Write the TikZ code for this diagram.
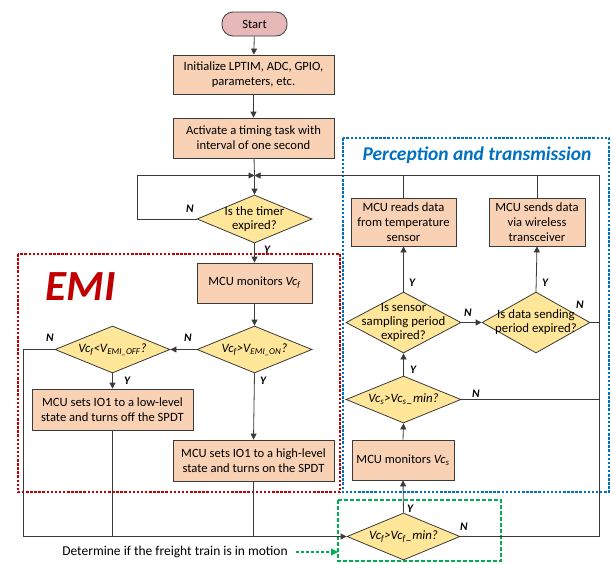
\documentclass[tikz,border=0pt]{standalone}
\usepackage{fontspec}
\setmainfont{Carlito}
\usetikzlibrary{arrows.meta,shapes.geometric}
\definecolor{boxfill}{HTML}{F9D2B6}
\definecolor{diafill}{HTML}{FFE699}
\definecolor{startfill}{HTML}{E6B9B8}
\definecolor{emired}{HTML}{C00000}
\definecolor{ptblue}{HTML}{0070C0}
\definecolor{motgreen}{HTML}{00B050}
\definecolor{linec}{HTML}{3A3A3A}
\begin{document}
\begin{tikzpicture}[x=1pt,y=-1pt,
  font=\fontsize{12.6}{15}\selectfont,
  line width=0.8pt,
  boxnode/.style={draw=linec, fill=boxfill, align=center, inner sep=0pt},
  dianode/.style={draw=linec, fill=diafill, shape=diamond, inner sep=0pt},
  diatext/.style={align=center, inner sep=0pt, font=\fontsize{12.8}{14}\selectfont},
  conn/.style={draw=linec},
  arr/.style={draw=linec, -{Triangle[length=6pt,width=6pt]}},
  yn/.style={font=\fontsize{11.5}{13}\selectfont\bfseries\itshape, inner sep=0pt},
  region/.style={line width=1.4pt, dash pattern=on 2.5pt off 1.6pt}
]
\useasboundingbox (0,0) rectangle (613,563);

% regions
\draw[region, emired] (18,254) rectangle (340,492);
\draw[region, ptblue] (343,138) rectangle (609,492);
\draw[region, motgreen, dash pattern=on 4pt off 2pt] (338,500) rectangle (501,561);

\node[text=emired, font=\fontsize{43}{45}\selectfont\bfseries\itshape, inner sep=0pt] (emi) at (81,287) {EMI};
\node[text=ptblue, font=\fontsize{19.5}{21}\selectfont\bfseries\itshape, inner sep=0pt] (pt) at (477,155) {Perception and transmission};

% main column
\node[draw=linec, fill=startfill, rounded corners=11pt, minimum width=65, minimum height=24, inner sep=0pt] (start) at (254.5,24) {Start};
\node[boxnode, minimum width=161, minimum height=39] (init) at (253.5,74.5) {Initialize LPTIM, ADC, GPIO,\\parameters, etc.};
\node[boxnode, minimum width=161, minimum height=40] (act) at (253.5,138) {Activate a timing task with\\interval of one second};
\coordinate (merge) at (254.5,175.5);
\node[dianode, minimum width=115, minimum height=48] (timer) at (254.5,219) {};
\node[diatext] (timert) at (timer) {Is the timer\\expired?};
\node[boxnode, minimum width=115, minimum height=40] (mvcf) at (254.5,283) {MCU monitors \textit{Vc\textsubscript{f}}};
\node[dianode, minimum width=115, minimum height=47] (emion) at (254.5,349.5) {};
\node[diatext] (emiont) at (emion) {\textit{Vc\textsubscript{f}>V\textsubscript{EMI\_ON}?}};
\node[dianode, minimum width=115, minimum height=47] (emioff) at (112.5,349.5) {};
\node[diatext] (emiofft) at (emioff) {\textit{Vc\textsubscript{f}<V\textsubscript{EMI\_OFF}?}};
\node[boxnode, minimum width=161, minimum height=41] (low) at (112.5,409.5) {MCU sets IO1 to a low-level\\state and turns off the SPDT};
\node[boxnode, minimum width=161, minimum height=41] (high) at (253.5,460.5) {MCU sets IO1 to a high-level\\state and turns on the SPDT};

% right column
\node[dianode, minimum width=113, minimum height=47] (fmin) at (403.5,536.5) {};
\node[diatext] (fmint) at (fmin) {\textit{Vc\textsubscript{f}>Vc\textsubscript{f}\_min?}};
\node[boxnode, minimum width=102, minimum height=40] (mvcs) at (403,460) {MCU monitors \textit{Vc\textsubscript{s}}};
\node[dianode, minimum width=115, minimum height=47] (csmin) at (403.5,399.5) {};
\node[diatext] (csmint) at (csmin) {\textit{Vc\textsubscript{s}>Vc\textsubscript{s}\_min?}};
\node[dianode, minimum width=115, minimum height=61] (samp) at (403.5,322.5) {};
\node[diatext] (sampt) at (samp) {Is sensor\\sampling period\\expired?};
\node[dianode, minimum width=108, minimum height=61] (dsend) at (536,322.5) {};
\node[diatext] (dsendt) at (dsend) {Is data sending\\period expired?};
\node[boxnode, minimum width=105, minimum height=48] (reads) at (403.5,222) {MCU reads data\\from temperature\\sensor};
\node[boxnode, minimum width=96, minimum height=48] (sends) at (537,222) {MCU sends data\\via wireless\\transceiver};

\coordinate (rx) at (599,175.5);
\coordinate (bl) at (23,536.5);

% connectors
\draw[arr] (start) -- (init);
\draw[arr] (init) -- (act);
\draw[conn] (act) -- (merge);
\draw[arr] (merge) -- (timer.north);
\draw[arr] (timer.west) -- ++(-59,0) |- (merge);
\draw[arr] (timer.south) -- (mvcf.north);
\draw[arr] (mvcf) -- (emion.north);
\draw[arr] (emion.west) -- (emioff.east);
\draw[arr] (emioff.south) -- (low.north);
\draw[arr] (emion.south) -- (high.north);
\draw[arr] (emioff.west) -| (bl) -- (fmin.west);
\draw[conn] (low.south) -- (low.south |- bl);
\draw[conn] (high.south) -- (high.south |- bl);
\draw[arr] (fmin.east) -| (rx) -- (merge);
\draw[arr] (fmin.north) -- (mvcs.south);
\draw[arr] (mvcs.north) -- (csmin.south);
\draw[conn] (csmin.east) -- (csmin.east -| rx);
\draw[arr] (csmin.north) -- (samp.south);
\draw[arr] (samp.north) -- (reads.south);
\draw[arr] (samp.east) -- (dsend.west);
\draw[arr] (dsend.north) -- (sends.south);
\draw[conn] (dsend.east) -- (dsend.east -| rx);
\draw[conn] (reads.north) -- (reads.north |- rx);
\draw[conn] (sends.north) -- (sends.north |- rx);

% Y/N labels
\node[yn] (l1) at (190,209) {N};
\node[yn] (l2) at (267,250) {Y};
\node[yn] (l3) at (188,338) {N};
\node[yn] (l4) at (50,338) {N};
\node[yn] (l5) at (127,381) {Y};
\node[yn] (l6) at (263,381) {Y};
\node[yn] (l7) at (410,509) {Y};
\node[yn] (l8) at (464,527) {N};
\node[yn] (l9) at (476,394) {N};
\node[yn] (l10) at (413,370) {Y};
\node[yn] (l11) at (412,283) {Y};
\node[yn] (l12) at (545,283) {Y};
\node[yn] (l13) at (468,313) {N};
\node[yn] (l14) at (580,305) {N};

% motion note
\node[inner sep=0pt, font=\fontsize{13.5}{15}\selectfont] (det) at (175,552) {Determine if the freight train is in motion};
\coordinate (gtip) at (338,552);
\draw[motgreen, line width=1.4pt, dash pattern=on 3pt off 2pt, -{Triangle[length=7pt,width=7pt]}] ([xshift=8pt]det.east) -- (gtip);
\end{tikzpicture}
\end{document}
